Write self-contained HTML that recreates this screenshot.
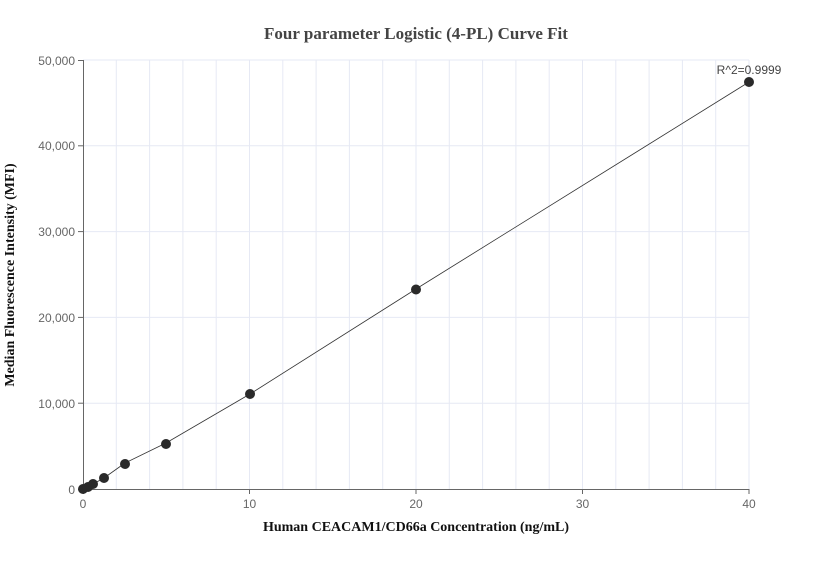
<!DOCTYPE html>
<html><head><style>body{margin:0;background:#fff}</style></head><body>
<svg width="832" height="560" xmlns="http://www.w3.org/2000/svg" font-family="Liberation Sans, sans-serif">
<rect width="832" height="560" fill="#fff"/>
<text x="416" y="39" text-anchor="middle" font-family="Liberation Serif, serif" font-weight="bold" font-size="17" fill="#444">Four parameter Logistic (4-PL) Curve Fit</text>
<g stroke="#e6e9f4" stroke-width="1">
<line x1="116.3" y1="60" x2="116.3" y2="489"/><line x1="149.6" y1="60" x2="149.6" y2="489"/><line x1="182.9" y1="60" x2="182.9" y2="489"/><line x1="216.2" y1="60" x2="216.2" y2="489"/><line x1="249.5" y1="60" x2="249.5" y2="489"/><line x1="282.8" y1="60" x2="282.8" y2="489"/><line x1="316.1" y1="60" x2="316.1" y2="489"/><line x1="349.4" y1="60" x2="349.4" y2="489"/><line x1="382.7" y1="60" x2="382.7" y2="489"/><line x1="416" y1="60" x2="416" y2="489"/><line x1="449.3" y1="60" x2="449.3" y2="489"/><line x1="482.6" y1="60" x2="482.6" y2="489"/><line x1="515.9" y1="60" x2="515.9" y2="489"/><line x1="549.2" y1="60" x2="549.2" y2="489"/><line x1="582.5" y1="60" x2="582.5" y2="489"/><line x1="615.8" y1="60" x2="615.8" y2="489"/><line x1="649.1" y1="60" x2="649.1" y2="489"/><line x1="682.4" y1="60" x2="682.4" y2="489"/><line x1="715.7" y1="60" x2="715.7" y2="489"/><line x1="749" y1="60" x2="749" y2="489"/>
<line x1="83" y1="60" x2="749" y2="60"/><line x1="83" y1="145.8" x2="749" y2="145.8"/><line x1="83" y1="231.6" x2="749" y2="231.6"/><line x1="83" y1="317.4" x2="749" y2="317.4"/><line x1="83" y1="403.2" x2="749" y2="403.2"/>
</g>
<g stroke="#666" stroke-width="1">
<line x1="83.5" y1="60" x2="83.5" y2="489"/><line x1="83" y1="489.5" x2="749" y2="489.5"/>
<line x1="78" y1="60.5" x2="83" y2="60.5"/><line x1="78" y1="145.8" x2="83" y2="145.8"/><line x1="78" y1="231.6" x2="83" y2="231.6"/><line x1="78" y1="317.4" x2="83" y2="317.4"/><line x1="78" y1="403.2" x2="83" y2="403.2"/><line x1="78" y1="489.5" x2="83" y2="489.5"/>
<line x1="83.5" y1="489" x2="83.5" y2="494"/><line x1="249.5" y1="489" x2="249.5" y2="494"/><line x1="416" y1="489" x2="416" y2="494"/><line x1="582.5" y1="489" x2="582.5" y2="494"/><line x1="749" y1="489" x2="749" y2="494"/>
</g>
<g font-size="12" fill="#666" text-anchor="end">
<text x="75" y="65">50,000</text><text x="75" y="150">40,000</text><text x="75" y="236">30,000</text><text x="75" y="322">20,000</text><text x="75" y="408">10,000</text><text x="75" y="494">0</text>
</g>
<g font-size="12" fill="#666" text-anchor="middle">
<text x="83" y="508">0</text><text x="249.5" y="508">10</text><text x="416" y="508">20</text><text x="582.5" y="508">30</text><text x="749" y="508">40</text>
</g>
<text x="416" y="531" text-anchor="middle" font-family="Liberation Serif, serif" font-weight="bold" font-size="14" fill="#111">Human CEACAM1/CD66a Concentration (ng/mL)</text>
<text transform="translate(14,275) rotate(-90)" text-anchor="middle" font-family="Liberation Serif, serif" font-weight="bold" font-size="14" fill="#111">Median Fluorescence Intensity (MFI)</text>
<polyline fill="none" stroke="#333" stroke-width="0.8" points="83,489 88,487 93,484 104,478 125,463 166,443 250,394 416,289 749,82"/>
<g fill="#2a2a2a">
<circle cx="83" cy="489" r="5"/><circle cx="88" cy="487" r="5"/><circle cx="93" cy="484" r="5"/><circle cx="104" cy="478" r="5"/><circle cx="125" cy="464" r="5"/><circle cx="166" cy="444" r="5"/><circle cx="250" cy="394" r="5"/><circle cx="416" cy="289.5" r="5"/><circle cx="749" cy="82" r="5"/>
</g>
<text x="749" y="74" text-anchor="middle" font-size="12" fill="#444">R^2=0.9999</text>
</svg>
</body></html>
